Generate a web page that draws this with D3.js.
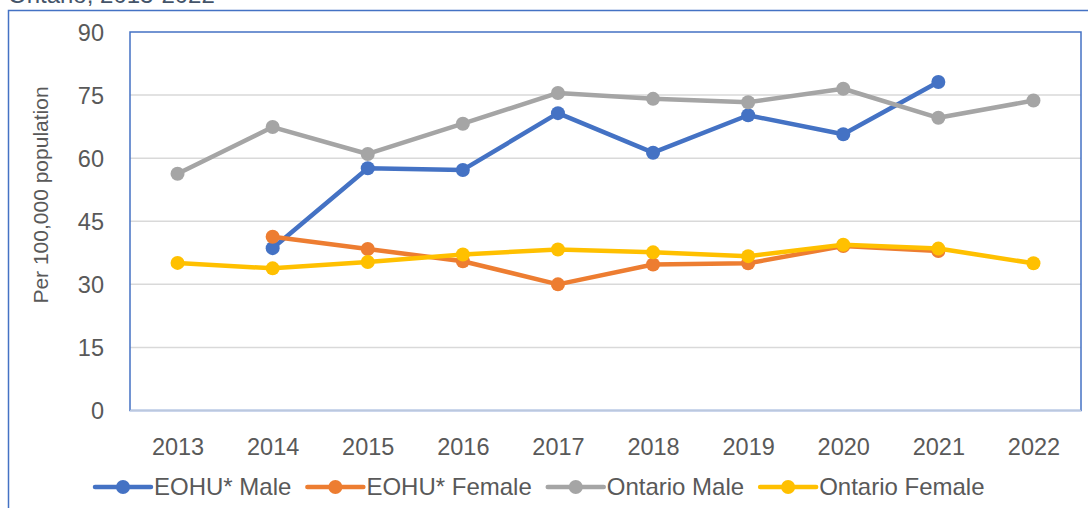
<!DOCTYPE html>
<html>
<head>
<meta charset="utf-8">
<script src="https://cdn.jsdelivr.net/npm/d3@7"></script>
<style>
  body { margin: 0; background: #fff; }
  svg text { font-family: "Liberation Sans", Arial, sans-serif; fill: #595959; }
</style>
</head>
<body>
<div id="chart"></div>
<script>
// data
var years = [2013, 2014, 2015, 2016, 2017, 2018, 2019, 2020, 2021, 2022];
var eohuMale = [null, 38.6, 57.6, 57.2, 70.7, 61.3, 70.2, 65.7, 78.1, null];
var eohuFemale = [null, 41.3, 38.4, 35.5, 30.0, 34.7, 35.0, 39.1, 37.9, null];
var ontarioMale = [56.3, 67.4, 61.0, 68.2, 75.5, 74.1, 73.3, 76.5, 69.6, 73.7];
var ontarioFemale = [35.1, 33.8, 35.3, 37.1, 38.3, 37.6, 36.7, 39.4, 38.5, 35.0];
var yTicks = [0, 15, 30, 45, 60, 75, 90];

var seriesNames = ["EOHU* Male", "EOHU* Female", "Ontario Male", "Ontario Female"];
var seriesColors = ["#4472C4", "#ED7D31", "#A5A5A5", "#FFC000"];
var seriesValues = [eohuMale, eohuFemale, ontarioMale, ontarioFemale];

var W = 1088, H = 508;
var plot = {left: 130, top: 32, right: 1081, bottom: 410.5};

var svg = d3.select("#chart").append("svg")
    .attr("width", W)
    .attr("height", H);

// title sits mostly above the frame, only its foot shows
svg.append("text")
    .attr("x", 8)
    .attr("y", 2.5)
    .style("font-size", "24px")
    .style("fill", "#44546A")
    .text("Ontario, 2013-2022");

// outer chart border (runs off the right and bottom)
svg.append("path")
    .attr("d", "M8.5," + H + "V10.5H" + W)
    .attr("fill", "none")
    .attr("stroke", "#4472C4")
    .attr("stroke-width", 1.5);

var xScale = d3.scalePoint()
    .domain(years)
    .range([plot.left, plot.right])
    .padding(0.5);

var yScale = d3.scaleLinear()
    .domain([0, 90])
    .range([plot.bottom, plot.top]);

// gridlines
svg.append("g").selectAll("line")
    .data(yTicks.filter(function(d) { return d > 0 && d < 90; }))
    .enter().append("line")
    .attr("x1", plot.left)
    .attr("x2", plot.right)
    .attr("y1", function(d) { return yScale(d); })
    .attr("y2", function(d) { return yScale(d); })
    .attr("stroke", "#D9D9D9")
    .attr("stroke-width", 1.5);

// plot area border
svg.append("rect")
    .attr("x", plot.left)
    .attr("y", plot.top)
    .attr("width", plot.right - plot.left)
    .attr("height", plot.bottom - plot.top)
    .attr("fill", "none")
    .attr("stroke", "#4472C4")
    .attr("stroke-width", 1.5);

svg.append("line")
    .attr("x1", plot.left)
    .attr("x2", plot.right)
    .attr("y1", plot.bottom)
    .attr("y2", plot.bottom)
    .attr("stroke", "#BCC8DE")
    .attr("stroke-width", 1.5);

// y tick labels
var yAxis = d3.axisLeft(yScale).tickValues(yTicks).tickSize(0).tickPadding(0);
var yg = svg.append("g")
    .attr("transform", "translate(104,0)")
    .call(yAxis);
yg.select(".domain").remove();
yg.selectAll("text")
    .style("font-size", "23.5px")
    .style("font-family", "Liberation Sans, Arial, sans-serif")
    .attr("fill", "#595959")
    .attr("dy", "0.35em");

// x tick labels
var xAxis = d3.axisBottom(xScale).tickSize(0).tickPadding(0);
var xg = svg.append("g")
    .attr("transform", "translate(0,446.5)")
    .call(xAxis);
xg.select(".domain").remove();
xg.selectAll("text")
    .style("font-size", "23.5px")
    .style("font-family", "Liberation Sans, Arial, sans-serif")
    .attr("fill", "#595959")
    .attr("dy", "0.35em")
    .attr("y", 0);

// y axis title
svg.append("text")
    .attr("transform", "translate(41,195) rotate(-90)")
    .attr("text-anchor", "middle")
    .attr("dy", "0.35em")
    .style("font-size", "21px")
    .text("Per 100,000 population");

// lines and markers
var line = d3.line()
    .defined(function(d) { return d.v !== null; })
    .x(function(d) { return xScale(d.year); })
    .y(function(d) { return yScale(d.v); })
    .curve(d3.curveLinear);

seriesValues.forEach(function(vals, i) {
    var pts = years.map(function(y, j) { return {year: y, v: vals[j]}; });
    var g = svg.append("g").attr("class", "series");
    g.append("path")
        .datum(pts)
        .attr("d", line)
        .attr("fill", "none")
        .attr("stroke", seriesColors[i])
        .attr("stroke-width", 4.5)
        .attr("stroke-linejoin", "round");
    g.selectAll("circle")
        .data(pts.filter(function(d) { return d.v !== null; }))
        .enter().append("circle")
        .attr("cx", function(d) { return xScale(d.year); })
        .attr("cy", function(d) { return yScale(d.v); })
        .attr("r", 7)
        .attr("fill", seriesColors[i]);
});

// legend
var legendY = 487;
var lx = 95;
seriesNames.forEach(function(name, i) {
    var g = svg.append("g");
    g.append("line")
        .attr("x1", lx).attr("x2", lx + 56)
        .attr("y1", legendY).attr("y2", legendY)
        .attr("stroke", seriesColors[i])
        .attr("stroke-width", 4.5)
        .attr("stroke-linecap", "round");
    g.append("circle")
        .attr("cx", lx + 28).attr("cy", legendY)
        .attr("r", 7)
        .attr("fill", seriesColors[i]);
    var t = g.append("text")
        .attr("x", lx + 59)
        .attr("y", legendY)
        .attr("dy", "0.35em")
        .style("font-size", "24px")
        .text(name);
    lx = lx + 59 + t.node().getComputedTextLength() + 16;
});
</script>
</body>
</html>
